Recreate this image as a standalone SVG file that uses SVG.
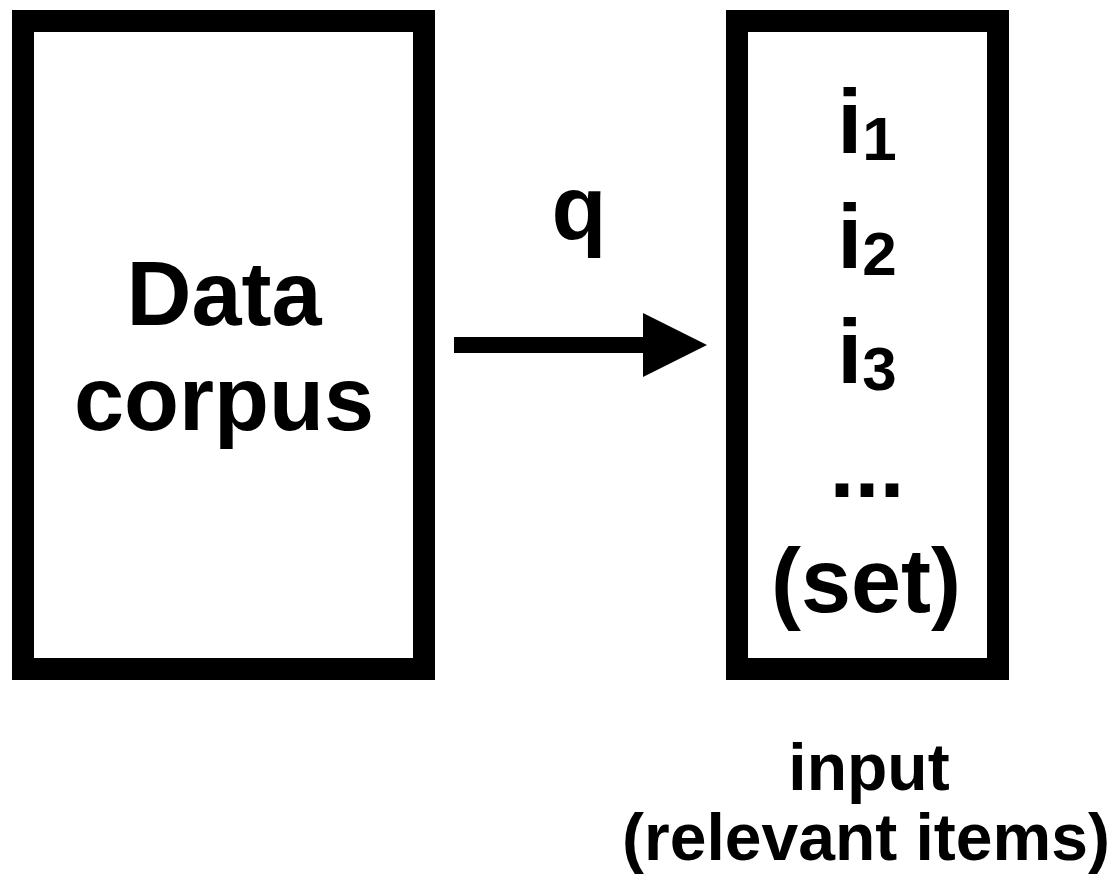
<svg xmlns="http://www.w3.org/2000/svg" width="1118" height="884" viewBox="0 0 1118 884">
  <style>
    .box { fill: #ffffff; stroke: #000000; stroke-width: 22; }
    .lbl { font-family: "Liberation Sans", Arial, Helvetica, sans-serif; font-weight: bold; fill: #000000; text-anchor: middle; }
    .big { font-size: 90px; }
    .sub { font-size: 62px; }
    .cap { font-size: 66px; }
  </style>
  <rect width="1118" height="884" fill="#ffffff"/>

  <!-- source corpus -->
  <g id="data-corpus">
    <rect class="box" x="23" y="21" width="401" height="648"/>
    <text class="lbl big" x="224" y="325">Data</text>
    <text class="lbl big" x="224" y="430">corpus</text>
  </g>

  <!-- query arrow -->
  <g id="connectors">
    <rect x="454" y="337" width="190" height="16" fill="#000000"/>
    <polygon points="643,313 707,345 643,377" fill="#000000"/>
    <text class="lbl big" x="579" y="239">q</text>
  </g>

  <!-- result set -->
  <g id="result-set">
    <rect class="box" x="737" y="21" width="261" height="648"/>
    <text class="lbl big" x="867" y="153">i<tspan class="sub" dy="7">1</tspan></text>
    <text class="lbl big" x="867" y="268">i<tspan class="sub" dy="7">2</tspan></text>
    <text class="lbl big" x="867" y="383">i<tspan class="sub" dy="7">3</tspan></text>
    <text class="lbl big" x="867" y="497">...</text>
    <text class="lbl big" x="866" y="612">(set)</text>
  </g>

  <!-- caption under the result set -->
  <g id="caption">
    <text class="lbl cap" x="869" y="790">input</text>
    <text class="lbl cap" x="866" y="860">(relevant items)</text>
  </g>
</svg>
